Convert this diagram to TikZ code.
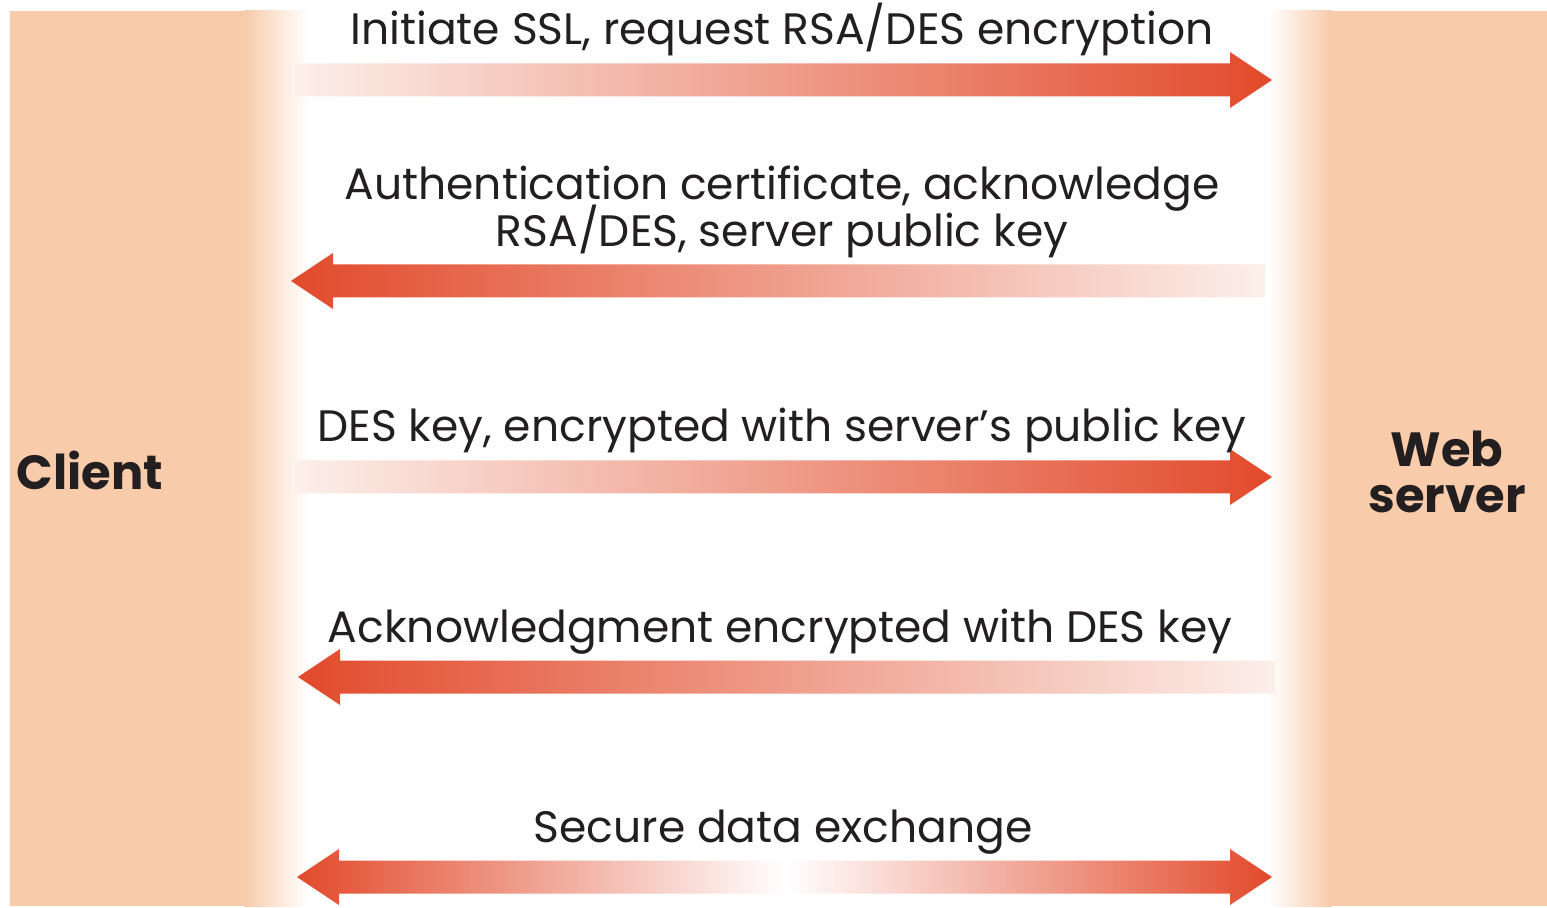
\documentclass[tikz,border=0pt]{standalone}
\usepackage{fontspec}
\setmainfont{Poppins}
\usetikzlibrary{calc}
\definecolor{cpeach}{HTML}{F8CBAB}
\definecolor{cred}{HTML}{E24A2B}
\definecolor{cpale}{HTML}{FCEFEA}
\definecolor{cink}{HTML}{231F20}
\tikzset{
  every picture/.style={x=0.5pt, y=-0.5pt},
  msg/.style={anchor=base, text=cink, font={\fontsize{22}{23.5}\selectfont\lineskiplimit=-20pt}, align=center, inner sep=0pt},
  party/.style={anchor=base, text=cink, font={\fontsize{24}{23}\selectfont\bfseries\lineskiplimit=-20pt}, align=center, inner sep=0pt},
}
% fat shaded arrow: tail, tip, colour at left end, colour at right end
\newcommand{\fatarrow}[4]{%
  \shade[left color=#3, right color=#4]
    let \p1=(#1), \p2=(#2), \n1={sign(\x2-\x1)} in
    (\x1,\y1+8.25pt) -- (\x2-\n1*21pt,\y1+8.25pt) -- (\x2-\n1*21pt,\y1+14pt) -- (\x2,\y2)
    -- (\x2-\n1*21pt,\y1-14pt) -- (\x2-\n1*21pt,\y1-8.25pt) -- (\x1,\y1-8.25pt) -- cycle;
}

\begin{document}
\begin{tikzpicture}
  \fill[white] (0,0) rectangle (1547,908);
  \useasboundingbox (0,0) rectangle (1547,908);
  % the two sides
  \fill[cpeach] (10,11) rectangle (248,906);
  \shade[left color=cpeach, right color=white] (244,11) rectangle (308,906);
  \shade[left color=white, right color=cpeach] (1268,11) rectangle (1332,906);
  \fill[cpeach] (1328,11) rectangle (1547,906);
  \node[party] (client) at (90,490) {Client};
  \node[party] (server) at (1447,513) {Web\\server};

  % arrow ends
  \coordinate (a1s) at (295,80);   \coordinate (a1e) at (1272,80);
  \coordinate (a2s) at (1265,281); \coordinate (a2e) at (291,281);
  \coordinate (a3s) at (295,477);  \coordinate (a3e) at (1272,477);
  \coordinate (a4s) at (1275,677); \coordinate (a4e) at (298,677);
  \coordinate (a5m) at (785,877);
  \coordinate (a5l) at (297,877);  \coordinate (a5r) at (1272,877);

  \fatarrow{a1s}{a1e}{cpale}{cred}
  \fatarrow{a2s}{a2e}{cred}{cpale}
  \fatarrow{a3s}{a3e}{cpale}{cred}
  \fatarrow{a4s}{a4e}{cred}{cpale}
  \fatarrow{a5m}{a5l}{cred}{white}
  \fatarrow{a5m}{a5r}{white}{cred}

  \node[msg] (m1) at (782,45) {Initiate SSL, request RSA/DES encryption};
  \node[msg] (m2) at (782,247) {Authentication certificate, acknowledge\\RSA/DES, server public key};
  \node[msg] (m3) at (782,442) {DES key, encrypted with server’s public key};
  \node[msg] (m4) at (780,642) {Acknowledgment encrypted with DES key};
  \node[msg] (m5) at (783,842) {Secure data exchange};
\end{tikzpicture}
\end{document}
